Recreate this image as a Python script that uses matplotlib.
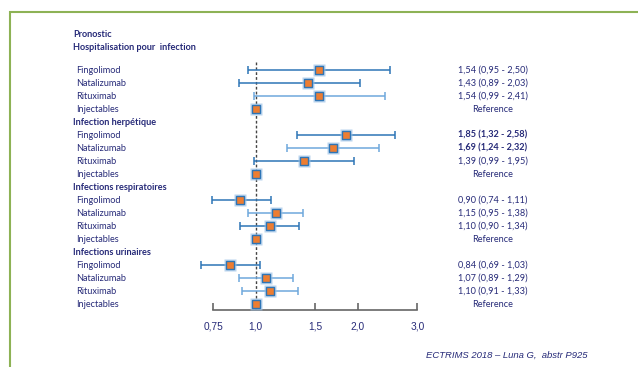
import matplotlib.pyplot as plt
import matplotlib.patches as mpatches
from matplotlib.transforms import blended_transform_factory

groups = ["Hospitalisation pour  infection", "Infection herpétique",
          "Infections respiratoires", "Infections urinaires"]
drugs = ["Fingolimod", "Natalizumab", "Rituximab", "Injectables"]
hr = [[1.54, 1.43, 1.54, 1.0],
      [1.85, 1.69, 1.39, 1.0],
      [0.90, 1.15, 1.10, 1.0],
      [0.84, 1.07, 1.10, 1.0]]
lo = [[0.95, 0.89, 0.99, None],
      [1.32, 1.24, 0.99, None],
      [0.74, 0.95, 0.90, None],
      [0.69, 0.89, 0.91, None]]
hi = [[2.50, 2.03, 2.41, None],
      [2.58, 2.32, 1.95, None],
      [1.11, 1.38, 1.34, None],
      [1.03, 1.29, 1.33, None]]
bold_rows = [(1, 0), (1, 1)]
light_bars = [(0, 2), (1, 1), (2, 1), (3, 1), (3, 2)]
ticks = [0.75, 1.0, 1.5, 2.0, 3.0]
tick_labels = ["0,75", "1,0", "1,5", "2,0", "3,0"]

navy = "#262A78"
orange = "#ED7D31"
dark_blue = "#2E75B6"
light_blue = "#6FA8DC"

W, H = 638, 367
fig = plt.figure(figsize=(W / 100, H / 100), dpi=100)

# green frame running off the right and bottom edges
fig.patches.append(mpatches.Rectangle((10 / W, -0.1), 1.2, 1.1 - 12 / H,
                                      transform=fig.transFigure, fill=False,
                                      edgecolor="#8DB255", lw=1.5))

ax = fig.add_axes([192 / W, (H - 310) / H, 250 / W, 290 / H])
ax.set_xscale("log")
ax.set_xlim(0.648, 3.55)
ax.set_ylim(18.46, -3.85)

lab = blended_transform_factory(fig.transFigure, ax.transData)
txt = dict(color=navy, fontsize=6.6, family="Lato", va="center")

ax.text(73 / W, -2.7, "Pronostic", transform=lab, fontweight="bold", **txt)

for g, name in enumerate(groups):
    head = -1.7 if g == 0 else g * 5 - 1
    ax.text(73 / W, head, name, transform=lab, fontweight="bold", **txt)
    for d, drug in enumerate(drugs):
        y = g * 5 + d if g > 0 else d
        ax.text(76 / W, y, drug, transform=lab, **txt)
        if lo[g][d] is None:
            vt = "Reference"
        else:
            vt = f"{hr[g][d]:.2f} ({lo[g][d]:.2f} - {hi[g][d]:.2f})".replace(".", ",")
        fw = "bold" if (g, d) in bold_rows else "normal"
        ax.text(493 / W, y, vt, transform=lab, ha="center", fontweight=fw, **txt)

        if lo[g][d] is not None:
            c = light_blue if (g, d) in light_bars else dark_blue
            ax.errorbar(hr[g][d], y,
                        xerr=[[hr[g][d] - lo[g][d]], [hi[g][d] - hr[g][d]]],
                        fmt="none", ecolor=c, elinewidth=1.1, capsize=2.8,
                        capthick=1.1, zorder=2)
        ax.plot(hr[g][d], y, "s", ms=8.5, color="#9DC3E6", alpha=0.7,
                mec="none", zorder=3)
        ax.plot(hr[g][d], y, "s", ms=6.3, color=orange, mec=dark_blue,
                mew=1, zorder=4)

ax.plot([1.0, 1.0], [-0.6, 18.46], ls=(0, (2, 1.5)), color="#444444",
        lw=1, zorder=1)

for s in ["top", "right", "left"]:
    ax.spines[s].set_visible(False)
ax.spines["bottom"].set_bounds(0.75, 3.0)
ax.spines["bottom"].set_color("#666666")
ax.spines["bottom"].set_linewidth(1.2)
ax.set_yticks([])
ax.set_xticks(ticks)
ax.minorticks_off()
ax.set_xticklabels(tick_labels, fontfamily="Liberation Sans", fontsize=7.3,
                   color=navy)
ax.tick_params(axis="x", direction="in", length=5, width=1.2,
               colors="#666666", labelcolor=navy, pad=8)

fig.text(507 / W, 1 - 355 / H, "ECTRIMS 2018 – Luna G,  abstr P925",
         ha="center", va="center", color=navy, fontsize=6.8,
         family="Liberation Sans", style="italic")

fig.savefig("out.png", dpi=100)
